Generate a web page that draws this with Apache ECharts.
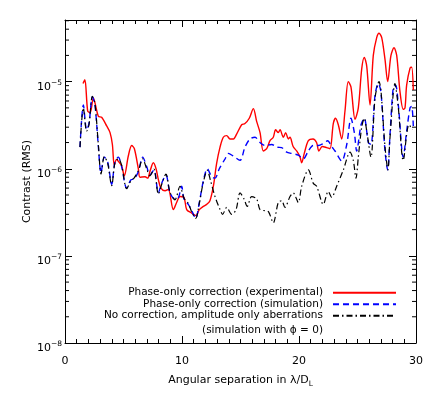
<!DOCTYPE html>
<html>
<head>
<meta charset="utf-8">
<script src="https://cdn.jsdelivr.net/npm/echarts@6/dist/echarts.min.js"></script>
<style>
html, body {margin: 0; padding: 0; background: #fff;}
#main {width: 436px; height: 393px;}
</style>
</head>
<body>
<div id="main"></div>
<script>
// phase-only correction, experimental
var expX = [1.54, 1.7, 1.94, 2.15, 2.42, 2.85, 3.13, 3.56, 3.85, 4.05, 4.21, 4.4, 4.6, 4.84, 5.07, 5.41, 5.7, 5.93, 6.27, 6.41,
    6.84, 7.07, 7.26, 7.55, 7.78, 7.98, 8.2, 8.55, 8.83, 9.26, 9.54, 9.83, 10.17, 10.4, 10.83, 11.2, 11.48, 11.82, 12.11, 12.39,
    12.68, 12.96, 13.25, 13.53, 13.82, 14.1, 14.4, 14.67, 15.1, 15.38, 15.75, 16.1, 16.38, 16.67, 16.95, 17.24, 17.52, 17.8, 18.0, 18.23,
    18.38, 18.66, 18.86, 19.09, 19.23, 19.5, 19.8, 20.09, 20.23, 20.45, 20.8, 21.2, 21.5, 21.7, 21.99, 22.36, 22.65, 22.93, 23.13, 23.36,
    23.65, 23.93, 24.21, 24.44, 24.79, 25.07, 25.36, 25.58, 25.79, 26.07, 26.35, 26.64, 26.84, 27.07, 27.35, 27.58, 27.86, 28.12, 28.35, 28.63,
    28.91, 29.06, 29.2, 29.49, 29.63, 29.77];
var expY = [9.5e-6, 1.05e-5, 4.6e-6, 4.4e-6, 6.5e-6, 4.0e-6, 3.9e-6, 3.1e-6, 2.6e-6, 1.9e-6, 1.1e-6, 1.28e-6, 1.2e-6, 1.08e-6, 8.3e-7, 1.4e-6, 1.85e-6, 1.7e-6, 1.0e-6, 8.0e-7,
    8.1e-7, 7.8e-7, 9.3e-7, 1.17e-6, 1.0e-6, 7.5e-7, 6.0e-7, 5.6e-7, 5.8e-7, 3.4e-7, 4.1e-7, 4.8e-7, 4.7e-7, 3.4e-7, 3.1e-7, 2.9e-7, 3.4e-7, 3.7e-7, 3.9e-7, 4.3e-7,
    6.3e-7, 1.15e-6, 1.77e-6, 2.3e-6, 2.4e-6, 2.2e-6, 2.2e-6, 2.5e-6, 3.2e-6, 3.3e-6, 3.8e-6, 4.9e-6, 3.5e-6, 2.6e-6, 1.6e-6, 1.7e-6, 2.1e-6, 2.3e-6, 2.8e-6, 2.6e-6,
    2.8e-6, 2.3e-6, 2.6e-6, 2.2e-6, 2.3e-6, 1.8e-6, 1.6e-6, 1.36e-6, 1.17e-6, 1.5e-6, 2.1e-6, 2.2e-6, 2.0e-6, 1.6e-6, 1.8e-6, 1.75e-6, 1.7e-6, 3.3e-6, 3.8e-6, 3.2e-6,
    2.2e-6, 4.6e-6, 1.0e-5, 8.7e-6, 3.7e-6, 5.0e-6, 1.4e-5, 1.9e-5, 1.5e-5, 5.4e-6, 2.0e-5, 3.2e-5, 3.6e-5, 3.2e-5, 1.8e-5, 1.0e-5, 2.0e-5, 2.45e-5, 2.0e-5, 7.7e-6,
    4.8e-6, 5.0e-6, 9.1e-6, 1.43e-5, 1.46e-5, 8.0e-6];

// phase-only correction, simulation
var simX = [1.28, 1.57, 1.85, 2.05, 2.34, 2.56, 2.85, 3.08, 3.36, 3.65, 3.99, 4.27, 4.56, 4.84, 5.27, 5.64, 5.9, 6.27, 6.64, 6.98,
    7.26, 7.6, 7.98, 8.26, 8.63, 8.97, 9.4, 9.68, 9.97, 10.17, 10.54, 10.83, 11.17, 11.48, 11.82, 12.16, 12.54, 12.82, 13.19, 13.68,
    13.96, 14.38, 14.96, 15.38, 15.81, 16.24, 16.67, 17.09, 17.67, 18.1, 18.52, 18.95, 19.38, 19.94, 20.37, 20.8, 21.22, 21.65, 22.08, 22.45,
    22.79, 23.08, 23.65, 24.08, 24.44, 24.73, 24.93, 25.3, 25.58, 25.93, 26.15, 26.5, 26.78, 27.0, 27.35, 27.58, 27.78, 28.06, 28.26, 28.49,
    28.91, 29.2, 29.49, 29.63, 29.77];
var simY = [1.77e-6, 5.4e-6, 2.8e-6, 3.3e-6, 6.7e-6, 5.4e-6, 1.8e-6, 9.0e-7, 1.36e-6, 1.2e-6, 6.6e-7, 1.2e-6, 1.36e-6, 1.06e-6, 6.0e-7, 7.5e-7, 7.6e-7, 9.3e-7, 1.36e-6, 1.06e-6,
    8.5e-7, 9.7e-7, 5.3e-7, 6.8e-7, 8.5e-7, 5.3e-7, 4.5e-7, 4.6e-7, 6.3e-7, 4.5e-7, 3.9e-7, 3.3e-7, 2.7e-7, 4.1e-7, 7.2e-7, 1.0e-6, 8.1e-7, 7.8e-7, 1.0e-6, 1.3e-6,
    1.5e-6, 1.4e-6, 1.25e-6, 1.77e-6, 2.2e-6, 2.3e-6, 2.0e-6, 1.85e-6, 1.9e-6, 1.77e-6, 1.75e-6, 1.55e-6, 1.5e-6, 1.43e-6, 1.3e-6, 1.6e-6, 1.85e-6, 1.85e-6, 1.95e-6, 2.1e-6,
    1.8e-6, 1.6e-6, 1.23e-6, 1.9e-6, 3.8e-6, 2.6e-6, 1.6e-6, 3.2e-6, 3.8e-6, 2.0e-6, 1.9e-6, 7.0e-6, 9.5e-6, 7.7e-6, 1.6e-6, 9.7e-7, 2.5e-6, 8.7e-6, 9.1e-6, 5.4e-6,
    1.36e-6, 2.7e-6, 5.0e-6, 5.2e-6, 3.1e-6];

// no correction, amplitude only aberrations
var ampX = [1.28, 1.57, 1.85, 2.05, 2.34, 2.56, 2.85, 3.08, 3.36, 3.65, 3.99, 4.27, 4.56, 4.84, 5.27, 5.64, 5.9, 6.27, 6.64, 6.98,
    7.26, 7.6, 7.98, 8.26, 8.63, 8.97, 9.4, 9.83, 10.17, 10.54, 10.83, 11.17, 11.48, 11.82, 12.16, 12.45, 12.82, 13.25, 13.47, 13.82,
    14.25, 14.62, 14.96, 15.3, 15.58, 15.95, 16.38, 16.67, 17.09, 17.4, 17.8, 18.23, 18.52, 18.8, 19.23, 19.5, 19.94, 20.23, 20.8, 21.22,
    21.51, 22.08, 22.5, 22.79, 23.22, 23.79, 24.36, 24.64, 24.87, 25.07, 25.36, 25.58, 25.79, 26.15, 26.5, 26.84, 27.0, 27.35, 27.6, 27.78,
    28.2, 28.49, 28.91, 29.4, 29.7];
var ampY = [1.77e-6, 5.0e-6, 2.7e-6, 3.2e-6, 6.8e-6, 5.6e-6, 1.9e-6, 8.7e-7, 1.38e-6, 1.15e-6, 6.4e-7, 1.18e-6, 1.3e-6, 1.1e-6, 5.9e-7, 7.3e-7, 7.8e-7, 9.5e-7, 1.3e-6, 1.0e-6,
    8.3e-7, 9.9e-7, 5.1e-7, 6.6e-7, 8.7e-7, 5.4e-7, 4.4e-7, 6.3e-7, 4.6e-7, 4.0e-7, 3.2e-7, 2.7e-7, 4.0e-7, 7.0e-7, 9.6e-7, 7.2e-7, 4.8e-7, 3.4e-7, 3.0e-7, 3.6e-7,
    3.0e-7, 3.4e-7, 5.3e-7, 4.5e-7, 3.7e-7, 4.8e-7, 4.5e-7, 3.4e-7, 3.3e-7, 3.2e-7, 2.4e-7, 4.1e-7, 4.3e-7, 3.6e-7, 4.8e-7, 5.3e-7, 4.1e-7, 6.3e-7, 9.7e-7, 6.8e-7,
    6.3e-7, 3.9e-7, 5.5e-7, 4.7e-7, 6.3e-7, 9.7e-7, 1.55e-6, 1.25e-6, 7.8e-7, 1.36e-6, 3.0e-6, 3.8e-6, 2.7e-6, 1.36e-6, 6.5e-6, 1.0e-5, 8.0e-6, 1.8e-6, 9.7e-7, 2.3e-6,
    9.5e-6, 5.0e-6, 1.25e-6, 3.2e-6, 2.8e-6];

var seriesNames = ['Phase-only correction (experimental)', 'Phase-only correction (simulation)', 'No correction, amplitude only aberrations'];

var xMin = 0, xMax = 30;
var yMin = 1e-8, yMax = 5.1e-5;
var decades = [-8, -7, -6, -5];

var FONT = '"DejaVu Sans", sans-serif';

function pairs(xs, ys) {
    return xs.map(function(x, i) { return [x, ys[i]]; });
}

// minor log ticks (2..9 x 10^n), drawn on both y axes
var minorY = [];
decades.forEach(function(e) {
    for (var k = 2; k <= 9; k++) {
        var v = k * Math.pow(10, e);
        if (v <= yMax) minorY.push([xMin, v]);
    }
});

var chart = echarts.init(document.getElementById('main'));

var axisLine = {show: true, onZero: false, lineStyle: {color: '#000', width: 1}};
var tick = {inside: true, length: 7, lineStyle: {color: '#000'}};
var minor = {show: true, splitNumber: 10, length: 4, lineStyle: {color: '#000'}};

chart.setOption({
    animation: false,
    grid: {left: 65, right: 20, top: 20, bottom: 42},
    xAxis: [{
        type: 'value', min: xMin, max: xMax, interval: 10, position: 'bottom',
        axisLine: axisLine, axisTick: tick, minorTick: minor,
        splitLine: {show: false},
        axisLabel: {color: '#000', fontSize: 11, fontFamily: FONT, margin: 13},
        name: '{m|Angular separation in \u03bb/D}{sub|L}',
        nameLocation: 'middle', nameGap: 30, nameMoveOverlap: false,
        nameTextStyle: {
            rich: {
                m: {fontSize: 11, fontFamily: FONT, color: '#000', lineHeight: 15, verticalAlign: 'middle'},
                sub: {fontSize: 7.5, fontFamily: FONT, color: '#000', lineHeight: 8, verticalAlign: 'bottom'}
            }
        }
    }, {
        type: 'value', min: xMin, max: xMax, interval: 10, position: 'top',
        axisLine: axisLine, axisTick: tick, minorTick: minor,
        splitLine: {show: false},
        axisLabel: {show: false}
    }],
    yAxis: [{
        type: 'log', min: yMin, max: yMax, position: 'left',
        axisLine: axisLine, axisTick: tick,
        splitLine: {show: false},
        axisLabel: {
            margin: 3, padding: [10, 0, 0, 0],
            formatter: function(v) {
                var e = Math.log10(v);
                if (Math.abs(e - Math.round(e)) > 0.01) return '';
                return '{b|10}{s|\u2212' + (-Math.round(e)) + '}';
            },
            rich: {
                b: {fontSize: 11, fontFamily: FONT, color: '#000', lineHeight: 15, verticalAlign: 'middle'},
                s: {fontSize: 7.5, fontFamily: FONT, color: '#000', lineHeight: 8, verticalAlign: 'top'}
            }
        },
        name: 'Contrast (RMS)',
        nameLocation: 'middle', nameGap: 32, nameRotate: 90, nameMoveOverlap: false,
        nameTextStyle: {color: '#000', fontSize: 11, fontFamily: FONT}
    }, {
        type: 'log', min: yMin, max: yMax, position: 'right',
        axisLine: axisLine, axisTick: tick,
        splitLine: {show: false},
        axisLabel: {show: false}
    }],
    legend: {
        orient: 'vertical', right: 39, top: 287, align: 'right', padding: 0,
        itemWidth: 63, itemHeight: 10, itemGap: 0, selectedMode: false,
        itemStyle: {opacity: 0},
        textStyle: {color: '#000', fontSize: 10.5, fontFamily: FONT, lineHeight: 11.5, padding: [0, 5, 0, 0]},
        data: seriesNames
    },
    graphic: [{
        type: 'text', x: 323, y: 330,
        style: {
            text: '(simulation with \u03d5 = 0)', fill: '#000', font: '10.5px ' + FONT,
            align: 'right', verticalAlign: 'middle', textAlign: 'right', textVerticalAlign: 'middle'
        }
    }],
    series: [{
        name: seriesNames[0], type: 'line',
        data: pairs(expX, expY), symbol: 'none', smooth: 0.3,
        lineStyle: {color: '#ff0000', width: 1.4}, itemStyle: {color: '#ff0000'}, z: 3
    }, {
        name: seriesNames[1], type: 'line',
        data: pairs(simX, simY), symbol: 'none', smooth: 0.3,
        lineStyle: {color: '#0000ff', width: 1.4, type: [6, 4]}, itemStyle: {color: '#0000ff'}, z: 4
    }, {
        name: seriesNames[2], type: 'line',
        data: pairs(ampX, ampY), symbol: 'none', smooth: 0.3,
        lineStyle: {color: '#000', width: 1.2, type: [6, 3, 1.5, 3]}, itemStyle: {color: '#000'}, z: 5
    }, {
        type: 'custom', silent: true, data: minorY, encode: {x: 0, y: 1},
        renderItem: function(params, api) {
            var l = api.coord([xMin, api.value(1)]);
            var r = api.coord([xMax, api.value(1)]);
            var st = {stroke: '#000', lineWidth: 1};
            return {type: 'group', children: [
                {type: 'line', shape: {x1: l[0], y1: l[1], x2: l[0] + 4, y2: l[1]}, style: st},
                {type: 'line', shape: {x1: r[0] - 4, y1: r[1], x2: r[0], y2: r[1]}, style: st}
            ]};
        }
    }]
});
</script>
</body>
</html>
